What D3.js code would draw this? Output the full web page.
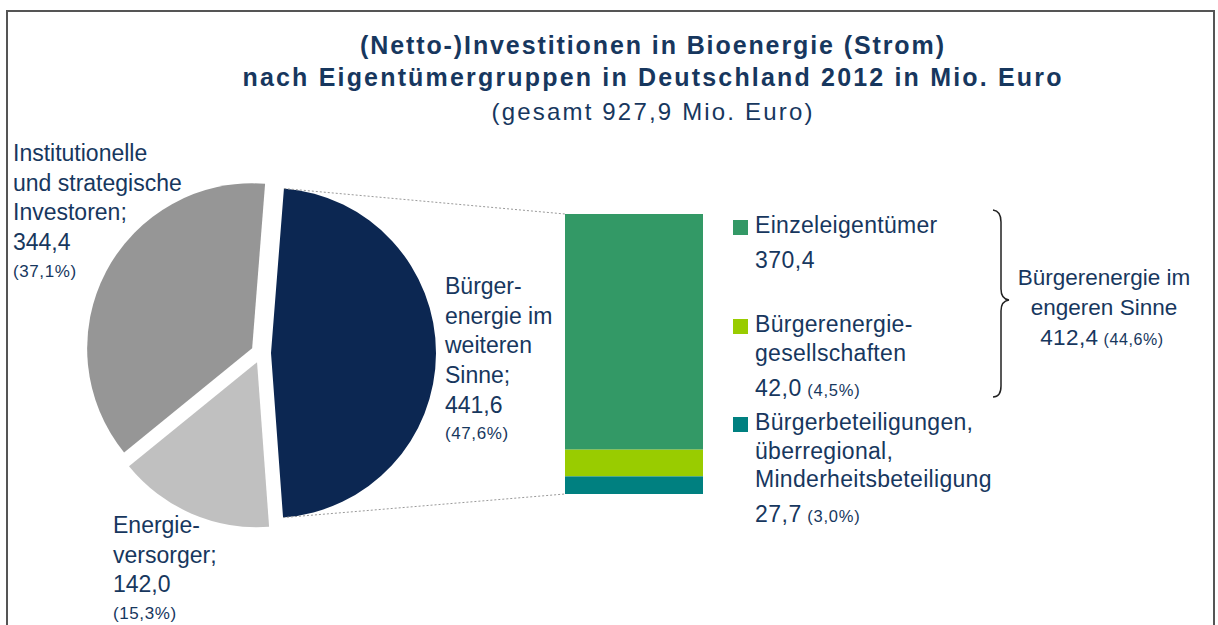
<!DOCTYPE html>
<html>
<head>
<meta charset="utf-8">
<script src="https://cdn.jsdelivr.net/npm/d3@7"></script>
<style>
  html, body { margin: 0; padding: 0; background: #fff; }
  svg { display: block; font-family: "Liberation Sans", Arial, sans-serif; }
</style>
</head>
<body>
<svg id="chart" width="1218" height="625"></svg>
<script>
// ---------------- DATA ----------------
const titleLines = [
  "(Netto-)Investitionen in Bioenergie (Strom)",
  "nach Eigentümergruppen in Deutschland 2012 in Mio. Euro",
  "(gesamt 927,9 Mio. Euro)"
];
const pieCategories = [
  "Bürgerenergie im weiteren Sinne",
  "Energieversorger",
  "Institutionelle und strategische Investoren"
];
const pieValues = [441.6, 142.0, 344.4];
const pieShares = ["47,6%", "15,3%", "37,1%"];
const pieLabelLines = [
  ["Bürger-", "energie im", "weiteren", "Sinne;"],
  ["Energie-", "versorger;"],
  ["Institutionelle", "und strategische", "Investoren;"]
];
const barCategories = [
  "Einzeleigentümer",
  "Bürgerenergiegesellschaften",
  "Bürgerbeteiligungen, überregional, Minderheitsbeteiligung"
];
const barValues = [370.4, 42.0, 27.7];
const barShares = [null, "4,5%", "3,0%"];
const barLabelLines = [
  ["Einzeleigentümer"],
  ["Bürgerenergie-", "gesellschaften"],
  ["Bürgerbeteiligungen,", "überregional,", "Minderheitsbeteiligung"]
];
const groupLabelLines = ["Bürgerenergie im", "engeren Sinne"];
const groupValue = 412.4;
const groupShare = "44,6%";

// ---------------- STYLE / LAYOUT ----------------
const textColor = "#17375E";
const pieColors = ["#0C2752", "#C0C0C0", "#969696"];
const barColors = ["#339966", "#99CC00", "#008080"];
const fmt = v => d3.format(".1f")(v).replace(".", ",");

const svg = d3.select("#chart");

// frame
svg.append("rect").attr("x", 7).attr("y", 11).attr("width", 1207).attr("height", 640)
  .attr("fill", "none").attr("stroke", "#555").attr("stroke-width", 2);

// title
const titleLayout = [
  {y: 54, size: 25, weight: "bold", width: 584},
  {y: 86, size: 25, weight: "bold", width: 819},
  {y: 120, size: 24, weight: "normal", width: 321}
];
titleLines.forEach((t, i) => {
  const L = titleLayout[i];
  svg.append("text").attr("x", 652 - L.width / 2).attr("y", L.y)
    .attr("font-size", L.size).attr("font-weight", L.weight)
    .attr("fill", textColor)
    .attr("textLength", L.width).attr("lengthAdjust", "spacing")
    .text(t);
});

// ---------------- PIE ----------------
const cx = 261, cy = 353, radius = 165, explode = 10;
const start = 4.5 * Math.PI / 180;
const pie = d3.pie().sort(null).startAngle(start).endAngle(start + 2 * Math.PI);
const arcs = pie(pieValues);
const arcGen = d3.arc().innerRadius(0).outerRadius(radius);
const offset = d => {
  const m = (d.startAngle + d.endAngle) / 2;
  return [Math.sin(m) * explode, -Math.cos(m) * explode];
};
const pieG = svg.append("g").attr("transform", `translate(${cx},${cy})`);
pieG.selectAll("path").data(arcs).join("path")
  .attr("d", arcGen)
  .attr("fill", (d, i) => pieColors[i])
  .attr("transform", d => `translate(${offset(d)})`);

// ---------------- BAR ----------------
const barTotal = d3.sum(barValues);
const yBar = d3.scaleLinear().domain([0, barTotal]).range([494, 214]);
const barX0 = 565, barX1 = 703;
// stack from bottom: last category at bottom
const stackOrder = barValues.map((v, i) => i).reverse();
let acc = 0;
const stacked = [];
stackOrder.forEach(i => { stacked[i] = [acc, acc + barValues[i]]; acc += barValues[i]; });
svg.append("g").selectAll("rect").data(barValues).join("rect")
  .attr("x", barX0).attr("width", barX1 - barX0)
  .attr("y", (d, i) => yBar(stacked[i][1]))
  .attr("height", (d, i) => yBar(stacked[i][0]) - yBar(stacked[i][1]))
  .attr("fill", (d, i) => barColors[i]);

// connector lines from exploded slice tips to bar corners
const a0 = arcs[0];
const o0 = offset(a0);
const tip = ang => [cx + o0[0] + Math.sin(ang) * radius, cy + o0[1] - Math.cos(ang) * radius];
const pTop = tip(a0.startAngle), pBot = tip(a0.endAngle);
[[pTop, [barX0, yBar(barTotal)]], [pBot, [barX0, yBar(0)]]].forEach(([p, q]) => {
  svg.append("line").attr("x1", p[0]).attr("y1", p[1]).attr("x2", q[0]).attr("y2", q[1])
    .attr("stroke", "#9a9a9a").attr("stroke-width", 1).attr("stroke-dasharray", "2,2");
});

// ---------------- PIE LABELS ----------------
const pieLabelLayout = [
  {x: 445, y: 294},
  {x: 113, y: 533},
  {x: 13, y: 161}
];
const lineStep = 29.7;
pieValues.forEach((v, i) => {
  const L = pieLabelLayout[i];
  const g = svg.append("g").attr("fill", textColor);
  const lines = pieLabelLines[i];
  lines.forEach((t, j) => {
    g.append("text").attr("x", L.x).attr("y", L.y + j * lineStep)
      .attr("font-size", 23).text(t);
  });
  const vy = L.y + lines.length * lineStep;
  g.append("text").attr("x", L.x).attr("y", vy).attr("font-size", 23).text(fmt(v));
  g.append("text").attr("x", L.x).attr("y", vy + 26.5).attr("font-size", 17)
    .attr("letter-spacing", 0.6).text("(" + pieShares[i] + ")");
});

// ---------------- LEGEND ----------------
const legendTops = [233, 332, 430];
const legStep = 28.7;
barValues.forEach((v, i) => {
  const y0 = legendTops[i];
  const g = svg.append("g").attr("fill", textColor);
  g.append("rect").attr("x", 733).attr("y", y0 - 13).attr("width", 15).attr("height", 15)
    .attr("fill", barColors[i]);
  const lines = barLabelLines[i];
  lines.forEach((t, j) => {
    g.append("text").attr("x", 755).attr("y", y0 + j * legStep).attr("font-size", 23)
      .attr("letter-spacing", 0.3).text(t);
  });
  const vy = y0 + (lines.length - 1) * legStep + 35;
  const vt = g.append("text").attr("x", 755).attr("y", vy);
  vt.append("tspan").attr("font-size", 23).attr("letter-spacing", 0.5).text(fmt(v));
  if (barShares[i]) {
    vt.append("tspan").attr("font-size", 16.5).attr("letter-spacing", 0.8)
      .text(" (" + barShares[i] + ")");
  }
});

// ---------------- BRACE ----------------
svg.append("path")
  .attr("d", "M993,210 Q1001,211 1001,222 L1001,289 Q1001,299 1009,300 Q1001,301 1001,311 L1001,386 Q1001,397 993,397")
  .attr("fill", "none").attr("stroke", "#222").attr("stroke-width", 1.5);

const gb = svg.append("g").attr("fill", textColor).attr("text-anchor", "middle");
groupLabelLines.forEach((t, j) => {
  gb.append("text").attr("x", 1104).attr("y", 285 + j * 30).attr("font-size", 22.5).text(t);
});
const gt = gb.append("text").attr("x", 1102).attr("y", 345);
gt.append("tspan").attr("font-size", 22.5).attr("letter-spacing", 0.4).text(fmt(groupValue));
gt.append("tspan").attr("font-size", 16).attr("letter-spacing", 0.6).text(" (" + groupShare + ")");
</script>
</body>
</html>
